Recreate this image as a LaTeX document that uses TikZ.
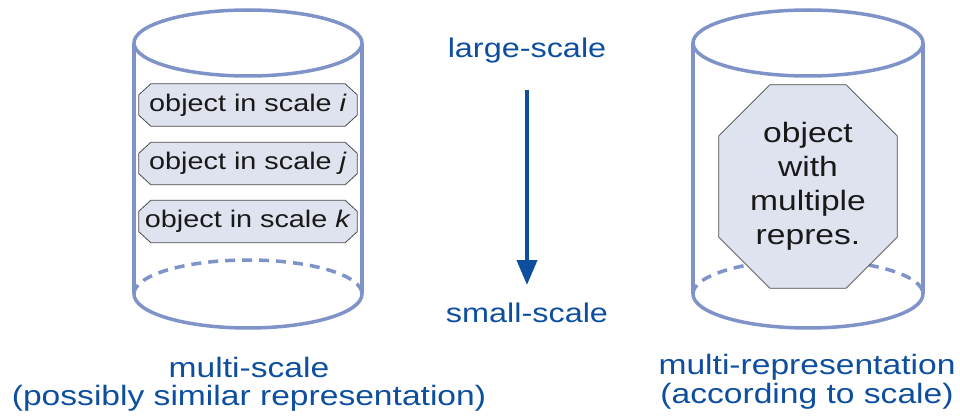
\documentclass[tikz,border=0pt]{standalone}
\usepackage{fontspec}
\setmainfont{Liberation Sans}
\usepackage{graphicx}
\usetikzlibrary{arrows.meta}
\pgfdeclarelayer{back}
\pgfdeclarelayer{mid}
\pgfsetlayers{back,mid,main}
\definecolor{cyl}{HTML}{7F93C8}
\definecolor{tblue}{HTML}{0D4F9E}
\definecolor{ofill}{HTML}{DFE3F0}
\definecolor{oline}{HTML}{4A4A4A}
\newcommand{\stx}[1]{\scalebox{1.2}[1]{#1}}
% octagon drawn round a named node: #1 name, #2 x chamfer, #3 y chamfer
\newcommand{\octround}[3]{%
  \begin{pgfonlayer}{mid}
  \draw[octline] ([xshift=#2]#1.north west) -- ([xshift=-#2]#1.north east)
     -- ([yshift=-#3]#1.north east) -- ([yshift=#3]#1.south east)
     -- ([xshift=-#2]#1.south east) -- ([xshift=#2]#1.south west)
     -- ([yshift=#3]#1.south west) -- ([yshift=-#3]#1.north west) -- cycle;
  \end{pgfonlayer}}
\begin{document}
\begin{tikzpicture}[x=1pt,y=-1pt,
  cyline/.style={draw=cyl, line width=3.5pt},
  cydash/.style={draw=cyl, line width=3.5pt, dash pattern=on 10pt off 7pt},
  bluelabel/.style={text=tblue, inner sep=0pt, font=\fontsize{27}{32}\selectfont, anchor=base},
  caption/.style={bluelabel, font=\fontsize{28}{32}\selectfont},
  octline/.style={draw=oline, fill=ofill, line width=0.8pt},
  objsmall/.style={inner sep=0pt, minimum width=218pt, minimum height=42pt,
     font=\fontsize{24}{28}\selectfont, text=black!90},
  objbig/.style={inner sep=0pt, minimum width=178pt, minimum height=203pt,
     font=\fontsize{28}{34}\selectfont, text=black!90, align=center},
  flow/.style={draw=tblue, line width=4pt, -{Triangle[width=20pt,length=25pt]}}
]
\useasboundingbox (0,0) rectangle (960,417);

\begin{pgfonlayer}{back}
% left cylinder
\draw[cyline] (248,43) ellipse [x radius=114, y radius=33];
\draw[cyline] (134,43) -- (134,294);
\draw[cyline] (362,43) -- (362,294);
\draw[cyline] (362,294) arc [start angle=0, end angle=180, x radius=114, y radius=34];
\draw[cydash] (134,294) arc [start angle=180, end angle=360, x radius=114, y radius=34];
% right cylinder
\draw[cyline] (808,43) ellipse [x radius=115, y radius=33];
\draw[cyline] (693,43) -- (693,294);
\draw[cyline] (923,43) -- (923,294);
\draw[cyline] (923,294) arc [start angle=0, end angle=180, x radius=115, y radius=34];
\draw[cydash] (693,294) arc [start angle=180, end angle=360, x radius=115, y radius=34];
\end{pgfonlayer}

% objects
\node[objsmall] (oi) at (248,105) {\stx{object in scale \textit{i}}};
\node[objsmall] (oj) at (248,163.5) {\stx{object in scale \textit{j}}};
\node[objsmall] (ok) at (248,221.5) {\stx{object in scale \textit{k}}};
\node[objbig] (om) at (808,186.5) {\stx{\begin{tabular}{@{}c@{}}object\\with\\multiple\\repres.\end{tabular}}};
\octround{oi}{12pt}{11pt}
\octround{oj}{12pt}{11pt}
\octround{ok}{12pt}{11pt}
\octround{om}{51pt}{51pt}

% scale arrow
\node[bluelabel] (ls) at (527,58) {\stx{large-scale}};
\node[bluelabel] (ss) at (527,322) {\stx{small-scale}};
\draw[flow] ([yshift=-32pt]ls.base) -- ([yshift=37pt]ss.base);

% captions
\node[caption] (c1) at (249,377) {\stx{multi-scale}};
\node[caption] (c2) at (249,405) {\stx{(possibly similar representation)}};
\node[caption] (c3) at (807,374) {\stx{multi-representation}};
\node[caption] (c4) at (807,403) {\stx{(according to scale)}};
\end{tikzpicture}
\end{document}
